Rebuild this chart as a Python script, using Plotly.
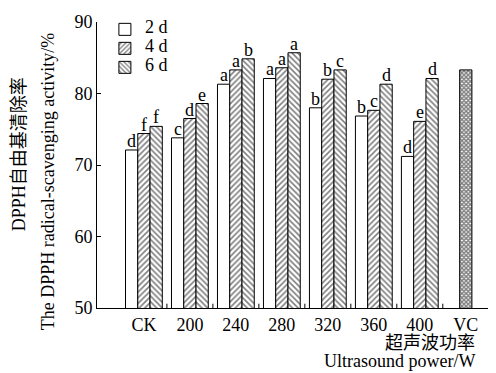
import plotly.graph_objects as go

categories = ["CK", "200", "240", "280", "320", "360", "400"]
vals_2d = [72.1, 73.8, 81.3, 82.1, 78.0, 76.85, 71.2]
vals_4d = [74.4, 76.5, 83.3, 83.6, 82.0, 77.65, 76.1]
vals_6d = [75.4, 78.6, 84.85, 85.7, 83.3, 81.3, 82.1]
letters_2d = ["d", "c", "a", "a", "b", "b", "d"]
letters_4d = ["f", "d", "a", "a", "b", "c", "e"]
letters_6d = ["f", "e", "b", "a", "c", "d", "d"]
vc_cat = ["VC"]
vc_val = [83.3]
all_cats = categories + vc_cat
series_names = ["2 d", "4 d", "6 d"]

SERIF = "Liberation Serif, Times New Roman, serif"
MIXED = "Liberation Serif, Noto Sans CJK SC, serif"


def lg(name):
    return '<span style="font-size:18px">' + name + '</span>'


fig = go.Figure()
fig.add_trace(go.Bar(name=lg(series_names[0]), x=categories, y=vals_2d, offsetgroup="a",
                     marker=dict(color="white", line=dict(color="black", width=1))))
fig.add_trace(go.Bar(name=lg(series_names[1]), x=categories, y=vals_4d, offsetgroup="b",
                     marker=dict(color="white", line=dict(color="black", width=1),
                                 pattern=dict(shape="/", size=4, solidity=0.4, fgcolor="black", bgcolor="white"))))
fig.add_trace(go.Bar(name=lg(series_names[2]), x=categories, y=vals_6d, offsetgroup="c",
                     marker=dict(color="white", line=dict(color="black", width=1),
                                 pattern=dict(shape="\\", size=4, solidity=0.4, fgcolor="black", bgcolor="white"))))
fig.add_trace(go.Bar(name="VC", x=vc_cat, y=vc_val, offsetgroup="b", showlegend=False,
                     marker=dict(color="white", line=dict(color="black", width=1),
                                 pattern=dict(shape="x", size=3, solidity=0.7, fgcolor="black", bgcolor="white"))))

shifts = [-12.3, 0, 12.3]
for letters, vals, sh in [(letters_2d, vals_2d, shifts[0]), (letters_4d, vals_4d, shifts[1]), (letters_6d, vals_6d, shifts[2])]:
    for i, (v, t) in enumerate(zip(vals, letters)):
        fig.add_annotation(x=i, y=v, text=t, showarrow=False, xshift=sh, yanchor="bottom", yshift=-3,
                           font=dict(family=SERIF, size=18, color="black"))

# axis titles
fig.add_annotation(xref="paper", yref="paper", x=-0.197, y=0.538, text="DPPH自由基清除率", textangle=-90,
                   showarrow=False, xanchor="center", yanchor="middle",
                   font=dict(family=MIXED, size=18, color="black"))
fig.add_annotation(xref="paper", yref="paper", x=-0.124, y=0.44, text="The DPPH radical-scavenging activity/%",
                   textangle=-90, showarrow=False, xanchor="center", yanchor="middle",
                   font=dict(family=SERIF, size=18, color="black"))
fig.add_annotation(xref="paper", yref="paper", x=0.962, y=-0.124, text="超声波功率",
                   showarrow=False, xanchor="right", yanchor="middle",
                   font=dict(family=MIXED, size=18, color="black"))
fig.add_annotation(xref="paper", yref="paper", x=0.962, y=-0.227, text="Ultrasound power/W",
                   showarrow=False, xanchor="right", yanchor="bottom",
                   font=dict(family=SERIF, size=18, color="black"))

fig.update_layout(
    width=488, height=365,
    margin=dict(l=89, r=4, t=14, b=65),
    plot_bgcolor="white", paper_bgcolor="white",
    barmode="group", bargap=0.2, bargroupgap=0,
    font=dict(family=SERIF, size=17, color="black"),
    legend=dict(x=0.02, y=1.025, xanchor="left", yanchor="top", bgcolor="rgba(0,0,0,0)",
                font=dict(family=SERIF, size=10), tracegroupgap=0),
    xaxis=dict(type="category", categoryorder="array", categoryarray=all_cats,
               range=[-1.02, 7.57], showline=True, linecolor="black", linewidth=1,
               ticks="", showgrid=False, tickfont=dict(family=SERIF, size=18)),
    yaxis=dict(range=[50, 90], tickvals=[50, 60, 70, 80, 90], showline=True, linecolor="black",
               linewidth=1, ticks="inside", ticklen=4, tickcolor="black", showgrid=False,
               zeroline=False, tickfont=dict(family=SERIF, size=18)),
)

# small boundary ticks on x-axis
for i in range(len(all_cats) - 1):
    fig.add_shape(type="line", xref="x", yref="y domain", x0=i + 0.5, x1=i + 0.5, y0=0, y1=0.015,
                  line=dict(color="black", width=1))

fig.write_html("out.html")
